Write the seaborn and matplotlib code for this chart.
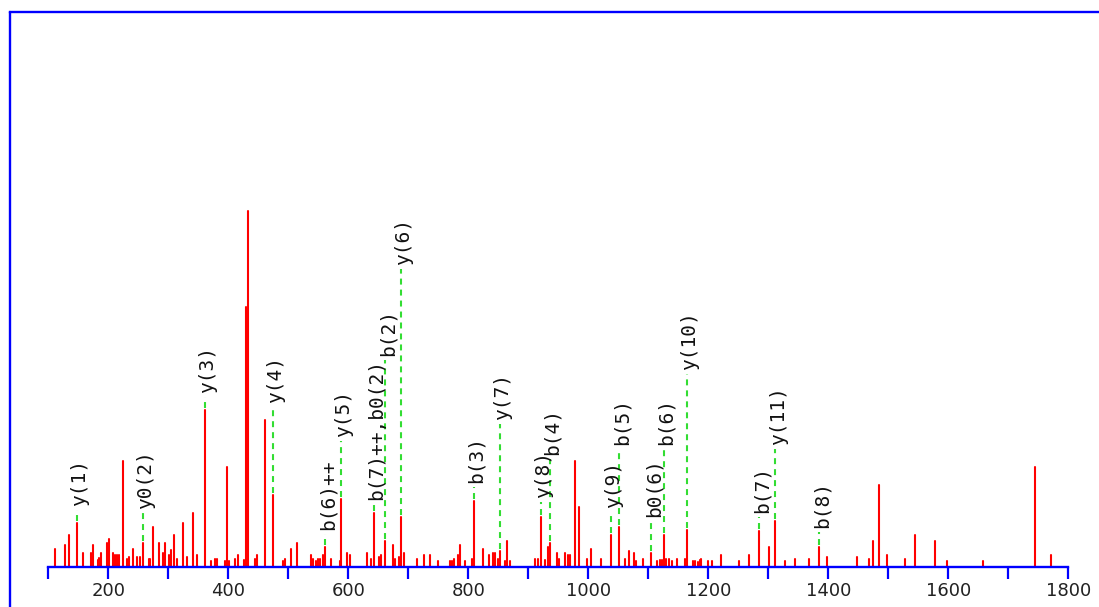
import matplotlib
matplotlib.use("Agg")
import matplotlib.pyplot as plt
from matplotlib.lines import Line2D
import pandas as pd
import seaborn as sns
import seaborn.objects as so

# Peak list: m/z and relative intensity (%) of each fragment peak
mz = [110.5, 127.2, 133.8, 147.8, 157.8, 171.2, 174.5, 182.2, 185.0, 188.3,
      197.8, 201.7, 207.8, 211.7, 214.5, 218.3, 224.5, 231.2, 235.0, 241.2,
      247.8, 253.3, 257.8, 267.2, 270.0, 274.5, 283.8, 291.2, 295.0, 300.5,
      304.5, 308.8, 314.5, 324.5, 331.2, 341.2, 347.8, 360.5, 371.2, 377.2,
      381.2, 395.0, 398.3, 401.7, 411.7, 415.5, 425.5, 429.5, 432.2, 443.8,
      447.8, 460.5, 474.5, 491.2, 495.0, 504.5, 514.5, 537.8, 540.5, 546.2,
      549.5, 553.3, 557.2, 561.7, 571.2, 585.5, 588.3, 597.8, 603.3, 631.2,
      637.8, 642.2, 650.5, 654.5, 661.7, 674.5, 678.3, 683.8, 688.3, 692.2,
      714.5, 725.5, 736.7, 748.8, 768.8, 772.8, 776.7, 782.2, 786.7, 795.0,
      806.2, 808.8, 824.5, 833.8, 840.5, 843.8, 848.8, 852.2, 860.5, 864.5,
      868.8, 911.7, 915.5, 921.2, 928.3, 932.2, 935.5, 947.8, 951.7, 961.7,
      965.5, 970.0, 978.3, 985.0, 997.8, 1004.5, 1021.7, 1038.3, 1051.7, 1061.7,
      1067.2, 1075.5, 1079.5, 1091.2, 1105.0, 1114.5, 1118.8, 1122.8, 1125.5, 1129.5,
      1133.8, 1139.5, 1147.8, 1161.7, 1164.5, 1174.5, 1178.3, 1182.2, 1185.5, 1188.3,
      1198.8, 1206.2, 1221.7, 1251.7, 1268.3, 1285.0, 1301.7, 1311.7, 1328.3, 1345.0,
      1368.3, 1385.0, 1397.8, 1447.8, 1468.3, 1474.5, 1485.0, 1497.8, 1528.3, 1545.0,
      1578.3, 1597.8, 1657.8, 1743.8, 1771.7]
intensity = [5.1, 6.2, 9.0, 12.4, 3.9, 3.9, 6.2, 2.0, 2.5, 3.9,
             6.7, 7.9, 3.9, 3.4, 3.4, 3.4, 29.8, 2.2, 2.8, 5.1,
             2.8, 2.8, 6.7, 2.2, 2.2, 11.2, 6.7, 3.9, 6.7, 3.4,
             4.8, 9.0, 2.2, 12.4, 2.8, 15.2, 3.4, 44.1, 1.7, 2.2,
             2.2, 1.7, 28.1, 1.7, 2.2, 3.4, 2.0, 73.0, 100.0, 2.2,
             3.4, 41.3, 20.2, 1.7, 2.2, 5.1, 6.7, 3.4, 2.2, 1.7,
             2.2, 2.2, 3.4, 5.6, 2.2, 1.7, 19.1, 3.9, 3.4, 3.9,
             2.2, 15.2, 2.8, 3.4, 7.3, 6.2, 2.2, 2.8, 14.0, 3.9,
             2.2, 3.4, 3.4, 1.7, 1.7, 1.7, 2.2, 3.4, 6.2, 1.7,
             2.2, 18.5, 5.1, 3.4, 3.9, 3.9, 2.2, 4.5, 1.7, 7.3,
             1.7, 2.2, 2.2, 14.0, 2.0, 5.6, 6.7, 3.9, 2.2, 3.9,
             3.4, 3.4, 29.8, 16.9, 2.2, 5.1, 2.2, 9.0, 11.2, 2.2,
             4.5, 3.9, 1.7, 2.2, 3.9, 1.7, 2.0, 2.0, 9.0, 2.2,
             2.2, 1.7, 2.2, 2.2, 10.4, 1.7, 1.7, 1.4, 2.0, 2.2,
             1.7, 1.7, 3.4, 1.7, 3.4, 10.1, 5.6, 12.9, 1.7, 2.2,
             2.2, 5.6, 2.8, 2.8, 2.2, 7.3, 23.0, 3.4, 2.2, 9.0,
             7.3, 1.7, 1.7, 28.1, 3.4]

# Assigned fragment ions and the m/z of the peak each one explains
ion_labels = ["y(1)", "y0(2)", "y(3)", "y(4)", "b(6)++", "y(5)", "b(7)++,b0(2)",
              "b(2)", "y(6)", "b(3)", "y(7)", "y(8)", "b(4)", "y(9)", "b(5)",
              "b0(6)", "b(6)", "y(10)", "b(7)", "y(11)", "b(8)"]
ion_mz = [147.8, 257.8, 360.5, 474.5, 561.7, 588.3, 642.2,
          661.7, 688.3, 808.8, 852.2, 921.2, 935.5, 1038.3, 1051.7,
          1105.0, 1125.5, 1164.5, 1285.0, 1311.7, 1385.0]

# Height (in intensity units) where each label starts, staggered so labels don't collide
label_level = [17.1, 16.3, 48.9, 46.1, 10.4, 36.5, 18.8,
               59.3, 84.8, 23.6, 41.3, 19.4, 31.5, 16.6, 34.3,
               14.0, 34.3, 55.3, 15.2, 34.3, 11.0]

sns.set_theme(style="white")
plt.rcParams["lines.scale_dashes"] = False
plt.rcParams["font.family"] = ["DejaVu Sans"]

W, H, DPI = 1099, 607, 100
fig = plt.figure(figsize=(W / DPI, H / DPI), dpi=DPI, facecolor="white")
ax = fig.add_axes([48.3 / W, 1 - 567 / H, 1020 / W, 555 / H])

peaks = pd.DataFrame({"mz": mz, "base": 0.0, "intensity": intensity})
(
    so.Plot(peaks, x="mz", ymin="base", ymax="intensity")
    .add(so.Range(color="#ff0000", linewidth=1.5))
    .on(ax)
    .plot()
)

RED_BLUE = "#0000ff"
ax.set_facecolor("white")
ax.set_xlim(100, 1800)
ax.set_ylim(0, 100 * 555 / 356)
ax.set_xlabel("")
ax.set_ylabel("")
ax.grid(False)
ax.set_yticks([])
ax.set_xticks(range(100, 1801, 100))
ax.set_xticklabels([str(v) if v % 200 == 0 else "" for v in range(100, 1801, 100)])
ax.tick_params(axis="x", which="major", direction="out", length=8.6, width=1.6,
               color=RED_BLUE, labelsize=13, labelcolor="#222222", pad=2.5, bottom=True)
for side in ("top", "left", "right"):
    ax.spines[side].set_visible(False)
ax.spines["bottom"].set_visible(True)
ax.spines["bottom"].set_color(RED_BLUE)
ax.spines["bottom"].set_linewidth(1.7)

# Fragment annotations: dashed connector from the peak up to a rotated label
peak_height = dict(zip(mz, intensity))
px = 100 / 356  # one pixel in intensity units
for label, x, level in zip(ion_labels, ion_mz, label_level):
    top = peak_height[x]
    ax.plot([x, x], [top + 2 * px, level - 4 * px], color="#33dd33", lw=1.5,
            dashes=(4.3, 3.6), solid_capstyle="butt", dash_capstyle="butt", zorder=3)
    ax.text(x + 4.5, level, label, rotation=90, rotation_mode="anchor",
            ha="left", va="center", fontsize=14, color="#111111",
            family=["DejaVu Sans Mono"], zorder=4)

# Frame along the left and top edges of the canvas
fig.add_artist(Line2D([9.5 / W, 9.5 / W], [0, 1 - 12 / H], color=RED_BLUE, lw=1.7,
                      transform=fig.transFigure))
fig.add_artist(Line2D([9.5 / W, 1.0], [1 - 12 / H, 1 - 12 / H], color=RED_BLUE, lw=1.7,
                      transform=fig.transFigure, solid_capstyle="projecting"))

fig.savefig("out.png", dpi=DPI, facecolor="white")
